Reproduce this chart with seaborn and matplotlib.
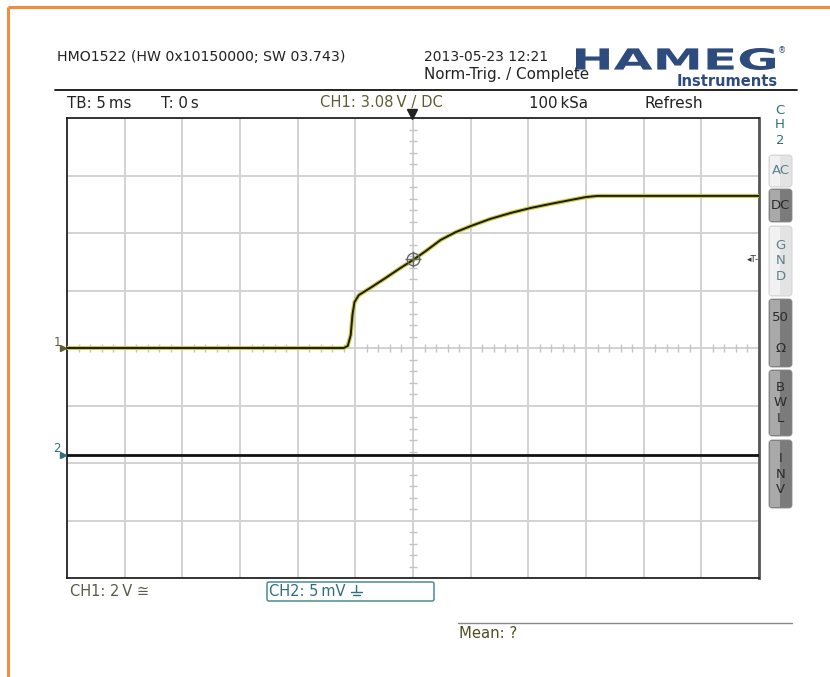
import numpy as np
import pandas as pd
import matplotlib
matplotlib.use("Agg")
import matplotlib.pyplot as plt
import seaborn as sns
from matplotlib.patches import Rectangle, PathPatch, FancyBboxPatch
from matplotlib.textpath import TextPath
from matplotlib.font_manager import FontProperties
from matplotlib.transforms import Affine2D

# ---- scope settings ----
time_per_div_ms = 5
ch1_volts_per_div = 2
ch2_mv_per_div = 5
trigger_level_v = 3.08
ch2_offset_div = -1.86

# ---- CH1 acquisition (time in ms, voltage in V) ----
ch1_time_ms = [-30.0, -10.0, -6.0, -5.66, -5.4, -5.25, -5.07, -4.7, -3.7, -2.4, -1.1,
               0.0, 1.1, 2.4, 3.7, 5.0, 6.7, 8.5, 10.2, 11.9, 13.7, 15.0, 16.0, 22.0, 30.0]
ch1_volts = [0.0, 0.0, 0.0, 0.07, 0.45, 1.15, 1.60, 1.84, 2.09, 2.43, 2.78,
             3.06, 3.37, 3.76, 4.03, 4.24, 4.49, 4.70, 4.87, 5.01, 5.15, 5.25, 5.29, 5.29, 5.29]

# ---- CH2 acquisition (flat) ----
ch2_time_ms = [-30.0, 30.0]
ch2_mv = [0.0, 0.0]

header_left = "HMO1522 (HW 0x10150000; SW 03.743)"
header_date = "2013-05-23 12:21"
header_mode = "Norm-Trig. / Complete"
status_items = ["TB: 5\u2009ms", "T: 0\u2009s", "CH1: 3.08\u2009V / DC", "100\u2009kSa", "Refresh"]
side_buttons = ["AC", "DC", "G\nN\nD", "50\n\nΩ", "B\nW\nL", "I\nN\nV"]

sns.set_theme(style="whitegrid")
plt.rcParams["font.family"] = ["DejaVu Sans"]

W, H = 830, 677
fig = plt.figure(figsize=(W / 100, H / 100), dpi=100)
fig.patch.set_facecolor("white")

# ---- scope screen ----
L, R, T, B = 67, 759, 118, 578
ax = fig.add_axes([L / W, 1 - B / H, (R - L) / W, (B - T) / H])
ax.set_facecolor("white")
ax.set_xlim(-6 * time_per_div_ms, 6 * time_per_div_ms)
ax.set_ylim(-4 * ch1_volts_per_div, 4 * ch1_volts_per_div)
ax.set_xticks(np.arange(-25, 26, time_per_div_ms))
ax.set_yticks(np.arange(-6, 7, ch1_volts_per_div))
ax.tick_params(length=0, labelbottom=False, labelleft=False)
ax.grid(True, color="#d2d2d2", lw=1.4)
for side in ["left", "top", "bottom"]:
    ax.spines[side].set_color("#222222")
    ax.spines[side].set_linewidth(1.3)
ax.spines["right"].set_color("#555555")
ax.spines["right"].set_linewidth(2.0)

# minor ticks along the centre cross
mx = [v for v in np.arange(-30, 30.01, 1.0) if abs(v % 5) > 1e-6]
my = [v for v in np.round(np.arange(-8, 8.01, 0.4), 2) if abs(v / 2 - round(v / 2)) > 1e-6]
ax.plot(mx, [0] * len(mx), ls="none", marker="|", ms=6, mew=1.0, color="#c4c4c4", zorder=1)
ax.plot([0] * len(my), my, ls="none", marker="_", ms=6, mew=1.0, color="#c4c4c4", zorder=1)

ch1 = pd.DataFrame({"t": ch1_time_ms, "v": ch1_volts})
sns.lineplot(data=ch1, x="t", y="v", ax=ax, color="#cdcd3a", lw=3.0, zorder=3)
sns.lineplot(data=ch1, x="t", y="v", ax=ax, color="#1c1c12", lw=1.4, zorder=4)

ch2 = pd.DataFrame({"t": ch2_time_ms,
                    "v": [(m / ch2_mv_per_div + ch2_offset_div) * ch1_volts_per_div for m in ch2_mv]})
sns.lineplot(data=ch2, x="t", y="v", ax=ax, color="#111111", lw=2.0, zorder=4)
ax.set_xlabel("")
ax.set_ylabel("")

# trigger point marker
ax.plot([0], [trigger_level_v], marker="o", ms=9, mfc="none", mec="#666666", mew=1.0, zorder=5)
ax.plot([0], [trigger_level_v], marker="+", ms=12, mec="#666666", mew=1.0, zorder=5)

# ---- overlay in pixel coordinates ----
ov = fig.add_axes([0, 0, 1, 1], zorder=10)
ov.set_xlim(0, W)
ov.set_ylim(H, 0)
ov.axis("off")
ov.patch.set_alpha(0)

orange = "#f28c3e"
ov.plot([8, 8], [7, H], color=orange, lw=2.2, solid_capstyle="butt")
ov.plot([8, W], [7, 7], color=orange, lw=2.2, solid_capstyle="butt")

dark = "#222222"
ov.text(57, 57, header_left, fontsize=10.2, color=dark, va="center", ha="left")
ov.text(424, 57, header_date, fontsize=10.0, color=dark, va="center", ha="left")
ov.text(424, 75, header_mode, fontsize=10.9, color=dark, va="center", ha="left")

# HAMEG logo
navy = "#2d4b7d"
tp = TextPath((0, 0), "HAMEG", prop=FontProperties(family="DejaVu Sans", weight="bold"))
ext = tp.get_extents()
x0, x1, y0, y1 = 576, 775, 48, 70
sx = (x1 - x0) / ext.width
sy = (y1 - y0) / ext.height
tr = Affine2D().translate(-ext.x0, -ext.y0).scale(sx, -sy).translate(x0, y1) + ov.transData
ov.add_patch(PathPatch(tp, color=navy, lw=0, transform=tr))
ov.text(778, 51, "®", fontsize=6, color=navy, va="center", ha="left")
ov.text(778, 82, "Instruments", fontsize=10.5, color=navy, fontweight="bold", va="center", ha="right")

ov.plot([55, 797], [90, 90], color="#111111", lw=1.3)

status_x = [67, 161, 320, 529, 644]
status_fs = [10.8, 10.8, 10.6, 10.8, 11.2]
status_col = [dark, dark, "#5d5d35", dark, dark]
for x, s, f, c in zip(status_x, status_items, status_fs, status_col):
    ov.text(x, 103, s, fontsize=f, color=c, va="center", ha="left")

# trigger position marker on top edge
ov.plot([412], [114], marker="v", ms=7, color="#222222")

# channel ground markers
ov.text(57, 342, "1", fontsize=8.5, color="#5d5d35", va="center", ha="center")
ov.plot([63], [348], marker=">", ms=5, color="#5d5d35")
ov.text(57, 449, "2", fontsize=8.5, color="#2f6f7a", va="center", ha="center")
ov.plot([63], [455], marker=">", ms=5, color="#2f6f7a")

# trigger level marker
ov.text(753, 260, "◂T-", fontsize=6.5, color="#333333", va="center", ha="center")

# side panel
teal = "#2f6f7a"
for y, ch in zip([110, 125, 140], "CH2"):
    ov.text(780, y, ch, fontsize=9.5, color=teal, va="center", ha="center")

btn_spans = [(155, 187), (189, 222), (226, 296), (299, 367), (370, 436), (440, 508)]
btn_dark = [False, True, False, True, True, True]
for (ya, yb), lab, dk in zip(btn_spans, side_buttons, btn_dark):
    lc, rc = ("#a9a9a9", "#7b7b7b") if dk else ("#f1f1f1", "#e3e3e3")
    ov.add_patch(FancyBboxPatch((769, ya), 23, yb - ya, boxstyle="round,pad=0,rounding_size=3",
                                fc=rc, ec="#cfcfcf" if not dk else "#8a8a8a", lw=0.6))
    ov.add_patch(Rectangle((770, ya + 1), 10, yb - ya - 2, fc=lc, ec="none"))
    ov.text(780.5, (ya + yb) / 2, lab, fontsize=9.5, color="#2b2b2b" if dk else "#5a8090",
            va="center", ha="center", linespacing=1.25)

# bottom status
ov.text(70, 592, "CH1: 2\u2009V ≅", fontsize=10.5, color="#5a5a46", va="center", ha="left")
ov.add_patch(FancyBboxPatch((267, 582), 167, 19, boxstyle="round,pad=0,rounding_size=2",
                            fc="white", ec="#4a8b94", lw=1.1))
ov.text(269, 592, "CH2: 5\u2009mV", fontsize=10.5, color=teal, va="center", ha="left")
# earth-ground sign after the CH2 coupling text
gx = 356
ov.plot([gx, gx], [585, 592], color=teal, lw=1.0)
ov.plot([gx - 5.5, gx + 5.5], [592, 592], color=teal, lw=1.0)
ov.plot([gx - 3.5, gx + 3.5], [595, 595], color=teal, lw=1.0)

ov.plot([458, 792], [623, 623], color="#888888", lw=1.0)
ov.text(459, 634, "Mean: ?", fontsize=10.7, color="#4e4e22", va="center", ha="left")

fig.savefig("out.png", dpi=100)
